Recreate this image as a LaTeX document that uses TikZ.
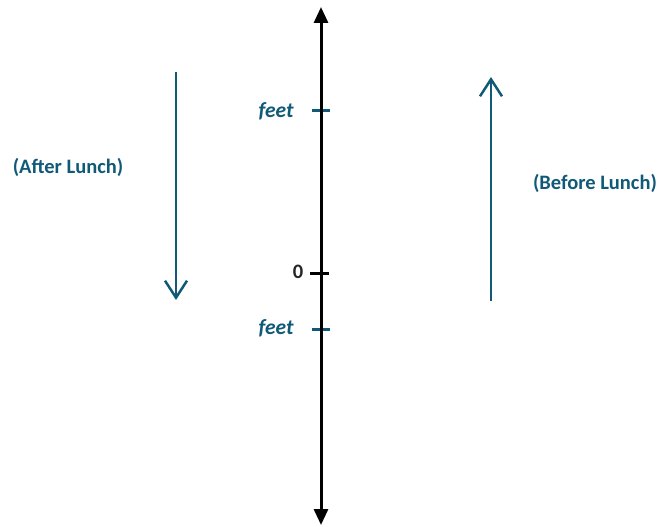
\documentclass[tikz,border=0pt]{standalone}
\usepackage{fontspec}
\setmainfont{Carlito}[BoldFont={Carlito Bold},ItalicFont={Carlito Italic},BoldItalicFont={Carlito Bold Italic}]
\usetikzlibrary{arrows.meta}
\definecolor{teal1}{RGB}{16,90,120}
\begin{document}
\begin{tikzpicture}[x=1bp,y=-1bp,
  lbl/.style={font=\fontsize{20.5bp}{24bp}\selectfont\bfseries, text=teal1, inner sep=0pt},
  feetlbl/.style={font=\fontsize{21.5bp}{24bp}\selectfont\bfseries\itshape, text=teal1, inner sep=0pt},
  zerolbl/.style={font=\fontsize{20.5bp}{24bp}\selectfont\bfseries, text=black!85, inner sep=0pt},
  tick/.style={line width=3bp},
  axisline/.style={line width=3bp, {Triangle[length=16bp,width=14bp]}-{Triangle[length=16bp,width=14bp]}},
  movearrow/.style={line width=2.5bp, draw=teal1, -{Straight Barb[length=17bp,width=22bp,line width=2.5bp]}}]
\useasboundingbox (0,0) rectangle (664,527);
% ticks
\coordinate (t1l) at (312,111); \coordinate (t1r) at (330,111);
\coordinate (t0l) at (310,273); \coordinate (t0r) at (329,273);
\coordinate (t2l) at (312,329); \coordinate (t2r) at (330,329);
\draw[tick, teal1] (t1l) -- (t1r);
\draw[tick, black] (t0l) -- (t0r);
\draw[tick, teal1] (t2l) -- (t2r);
% axis
\coordinate (atop) at (321,7);
\coordinate (abot) at (321,525);
\draw[axisline] (abot) -- (atop);
% labels
\node[feetlbl] (feet1) at (276,111) {feet};
\node[zerolbl] (zero) at (298,272) {0};
\node[feetlbl] (feet2) at (276,328) {feet};
\node[lbl] (after) at (68,167) {(After Lunch)};
\node[lbl] (before) at (595,183) {(Before Lunch)};
% arrows
\coordinate (dstart) at (176,72); \coordinate (dend) at (176,300);
\coordinate (ustart) at (491,301); \coordinate (uend) at (491,77);
\draw[movearrow] (dstart) -- (dend);
\draw[movearrow] (ustart) -- (uend);
\end{tikzpicture}
\end{document}
